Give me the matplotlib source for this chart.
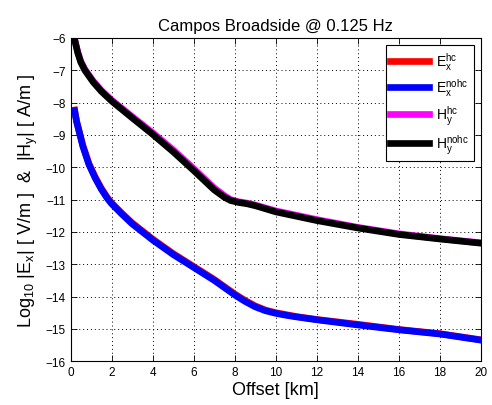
import numpy as np
import matplotlib
matplotlib.use('Agg')
import matplotlib.pyplot as plt

plt.rcParams['font.family'] = ['Liberation Sans', 'DejaVu Sans']
plt.rcParams['mathtext.fontset'] = 'custom'
plt.rcParams['mathtext.rm'] = 'Liberation Sans'
plt.rcParams['mathtext.it'] = 'Liberation Sans'

# Datos (offset en km, log10 amplitud)
offE = [0.2, 0.3, 0.4, 0.6, 0.9, 1.2, 1.5, 1.8, 2.0, 2.5, 3, 4, 5, 6, 7, 8, 8.5, 9, 9.5, 10,
        10.5, 11, 12, 14, 16, 18, 20]
ExNohc = [-8.25, -8.6, -8.85, -9.35, -9.92, -10.33, -10.68, -10.97, -11.13, -11.45, -11.75,
          -12.25, -12.7, -13.1, -13.5, -13.95, -14.15, -14.32, -14.44, -14.52, -14.58, -14.63,
          -14.72, -14.88, -15.03, -15.16, -15.35]
ExHc = [-8.23, -8.58, -8.82, -9.32, -9.89, -10.3, -10.65, -10.94, -11.1, -11.42, -11.72,
        -12.22, -12.67, -13.07, -13.47, -13.92, -14.12, -14.29, -14.42, -14.5, -14.56, -14.62,
        -14.71, -14.86, -15.02, -15.15, -15.34]

offH = [0.2, 0.35, 0.5, 0.7, 1.1, 1.5, 2.0, 3, 4, 5, 6, 7, 7.5, 7.8, 8.2, 8.6, 9, 10, 12,
        14, 16, 18, 20]
HyNohc = [-6.05, -6.45, -6.75, -7.0, -7.36, -7.65, -7.95, -8.47, -8.98, -9.52, -10.1, -10.7,
          -10.93, -11.03, -11.09, -11.13, -11.19, -11.38, -11.65, -11.88, -12.08, -12.22, -12.35]
HyHc = [-6.03, -6.43, -6.72, -6.97, -7.33, -7.62, -7.92, -8.43, -8.93, -9.46, -10.04, -10.64,
        -10.88, -11.0, -11.07, -11.11, -11.17, -11.35, -11.62, -11.86, -12.06, -12.21, -12.34]

fig = plt.figure(figsize=(4.92, 4.06), dpi=100)
ax = fig.add_axes([0.1433, 0.108, 0.8343, 0.796])

lw = 4.8
ax.plot(offE, ExHc, color='red', lw=lw, label=r'E$_x^{hc}$')
ax.plot(offE, ExNohc, color='blue', lw=lw, label=r'E$_x^{nohc}$')
ax.plot(offH, HyHc, color='magenta', lw=lw, label=r'H$_y^{hc}$')
ax.plot(offH, HyNohc, color='black', lw=lw, label=r'H$_y^{nohc}$')

ax.set_xlim(0, 20)
ax.set_ylim(-16, -6)
ax.set_xticks(range(0, 21, 2))
ax.set_yticks(range(-16, -5))
ax.grid(True, color='black', linestyle=(0, (1, 3)), linewidth=0.7)
ax.tick_params(direction='in', top=True, right=True, labelsize=8.5, length=4, width=0.6)
for s in ax.spines.values():
    s.set_linewidth(0.8)

ax.set_title('Campos Broadside @ 0.125 Hz', fontsize=12)
ax.set_xlabel('Offset [km]', fontsize=13, labelpad=2)
ax.set_ylabel(r'Log$_{10}$ |E$_x$| [ V/m ]  &  |H$_y$| [ A/m ]', fontsize=13, labelpad=4)

leg = ax.legend(loc='upper right', fontsize=10, fancybox=False, edgecolor='black',
                framealpha=1, handlelength=2.8, borderpad=0.35, labelspacing=0.35,
                handletextpad=0.5)
leg.get_frame().set_linewidth(0.8)

fig.savefig('out.png', dpi=100)
